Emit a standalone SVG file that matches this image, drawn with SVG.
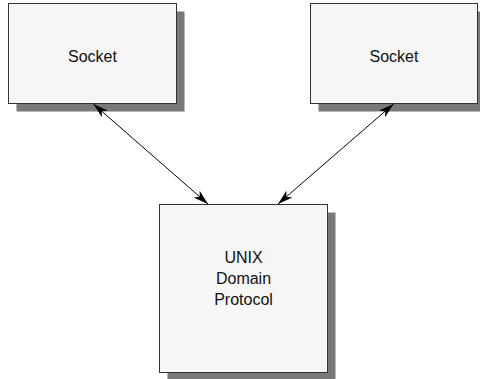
<svg xmlns="http://www.w3.org/2000/svg" width="480" height="379" viewBox="0 0 480 379">
  <style>
    .shadow { fill: #7a787a; }
    .box { fill: #f6f6f6; stroke: #333333; stroke-width: 1; }
    .label { font-family: "Liberation Sans", Arial, sans-serif; font-size: 16px; fill: #111111; text-anchor: middle; }
    .link { stroke: #000000; stroke-width: 1; fill: none; marker-start: url(#head); marker-end: url(#head); }
  </style>
  <defs>
    <marker id="head" viewBox="0 0 16 10" refX="15" refY="5" markerWidth="16" markerHeight="10" markerUnits="userSpaceOnUse" orient="auto-start-reverse">
      <path d="M0,0.5 L15,5 L0,9.5 L4,5 Z" fill="#000000"/>
    </marker>
  </defs>
  <rect width="480" height="379" fill="#ffffff"/>

  <g id="socket-left">
    <rect class="shadow" x="16.5" y="11.5" width="168" height="100"/>
    <rect class="box" x="8.5" y="3.5" width="168" height="100"/>
    <text class="label" x="92.5" y="62">Socket</text>
  </g>

  <g id="socket-right">
    <rect class="shadow" x="318.5" y="11.5" width="168" height="100"/>
    <rect class="box" x="310.5" y="3.5" width="167" height="100"/>
    <text class="label" x="394" y="62">Socket</text>
  </g>

  <g id="unix-domain-protocol">
    <rect class="shadow" x="167.5" y="212.5" width="168" height="168"/>
    <rect class="box" x="159.5" y="204.5" width="168" height="168"/>
    <text class="label" x="243.5" y="263">UNIX</text>
    <text class="label" x="243.5" y="284">Domain</text>
    <text class="label" x="243.5" y="305">Protocol</text>
  </g>

  <g id="connectors">
    <line class="link" x1="93.5" y1="104" x2="208" y2="204"/>
    <line class="link" x1="393.5" y1="104" x2="278" y2="204"/>
  </g>
</svg>
